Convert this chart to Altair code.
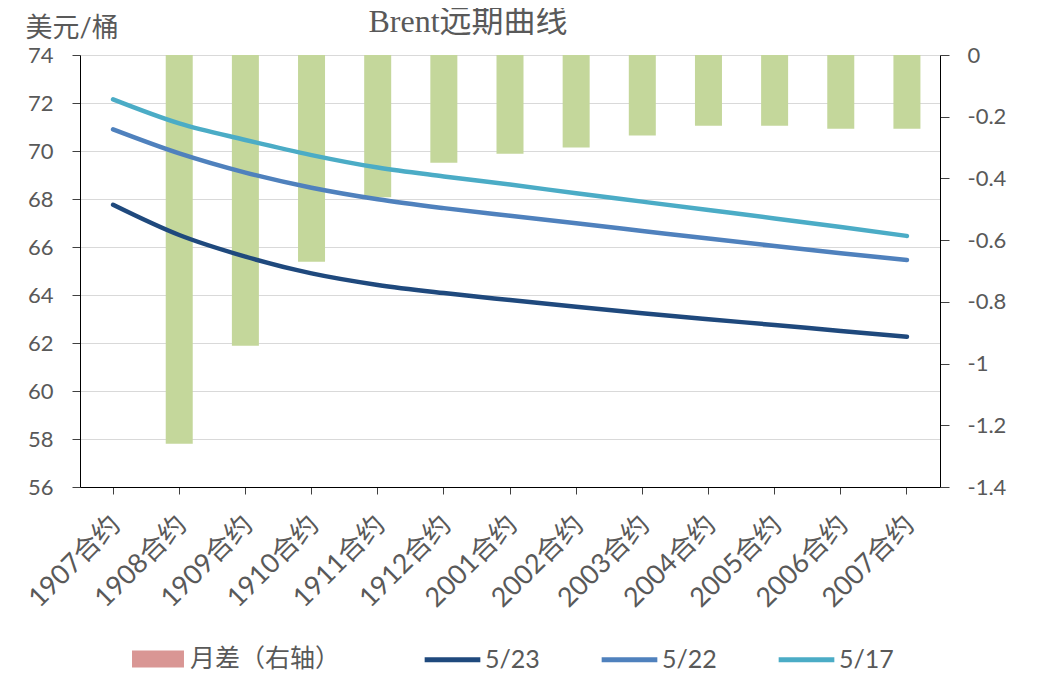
import altair as alt
import pandas as pd

contracts = ['1907合约', '1908合约', '1909合约', '1910合约', '1911合约', '1912合约',
             '2001合约', '2002合约', '2003合约', '2004合约', '2005合约', '2006合约', '2007合约']
spread = [None, -1.26, -0.942, -0.670, -0.461, -0.349, -0.320, -0.300, -0.261, -0.229, -0.229, -0.239, -0.239]
s0523 = [67.76, 66.50, 65.60, 64.90, 64.42, 64.08, 63.79, 63.51, 63.24, 62.99, 62.75, 62.50, 62.26]
s0522 = [70.90, 69.90, 69.10, 68.47, 67.99, 67.62, 67.30, 66.99, 66.67, 66.35, 66.04, 65.74, 65.46]
s0517 = [72.15, 71.15, 70.46, 69.83, 69.31, 68.94, 68.60, 68.24, 67.89, 67.54, 67.19, 66.83, 66.46]
series_names = ['5/23', '5/22', '5/17']
bar_name = '月差（右轴）'
left_ticks = [56, 58, 60, 62, 64, 66, 68, 70, 72, 74]
right_ticks = [0, -0.2, -0.4, -0.6, -0.8, -1.0, -1.2, -1.4]

bar_df = pd.DataFrame({'contract': contracts, 'spread': spread}).dropna()
bar_df['label'] = bar_name
rows = []
for name, vals in zip(series_names, [s0523, s0522, s0517]):
    for c, v in zip(contracts, vals):
        rows.append({'contract': c, 'series': name, 'price': v})
line_df = pd.DataFrame(rows)

GRAY = '#595959'
FONT = 'Lato, Noto Sans CJK SC'
xenc = alt.X('contract:N', sort=contracts, title=None,
             scale=alt.Scale(paddingInner=0, paddingOuter=0),
             axis=alt.Axis(labelAngle=-45, labelFontSize=27, labelColor=GRAY, labelFont=FONT,
                           domainColor='#000000', tickColor='#404040', tickSize=7,
                           labelPadding=17, labelOffset=-6, grid=False, labelOverlap=False))

bars = alt.Chart(bar_df).mark_bar(size=27, color='#C4D79B').encode(
    x=xenc,
    y=alt.Y('spread:Q', scale=alt.Scale(domain=[-1.4, 0], nice=False),
            axis=alt.Axis(orient='right', values=right_ticks, title=None,
                          labelExpr="datum.value == 0 ? '0' : '-' + format(abs(datum.value), '~g')",
                          labelFontSize=22, labelColor=GRAY, labelFont=FONT,
                          domainColor='#000000', tickColor='#404040', tickSize=9,
                          labelPadding=18, grid=False))
)

# invisible layer that only carries the legend entry of the bars
bar_key = alt.Chart(bar_df).mark_point(filled=True, opacity=0).encode(
    x=xenc,
    fill=alt.Fill('label:N', scale=alt.Scale(domain=[bar_name], range=['#D99694']),
                  legend=alt.Legend(orient='none', legendX=52, legendY=578, title=None,
                                    labelFontSize=25, labelColor=GRAY, labelFont=FONT,
                                    labelLimit=400, labelOffset=6,
                                    symbolType='M-1,-0.33H1V0.33H-1Z', symbolSize=2700,
                                    symbolStrokeWidth=0, symbolOpacity=1))
)

lines = alt.Chart(line_df).mark_line(strokeWidth=4.5, interpolate='monotone', strokeCap='round').encode(
    x=xenc,
    y=alt.Y('price:Q', scale=alt.Scale(domain=[56, 74], nice=False),
            axis=alt.Axis(orient='left', values=left_ticks, title='美元/桶',
                          titleAngle=0, titleX=-55, titleY=-19, titleAlign='left',
                          titleBaseline='alphabetic', titleFontSize=27, titleFont=FONT,
                          titleFontWeight='normal', titleColor=GRAY,
                          labelFontSize=22, labelColor=GRAY, labelFont=FONT,
                          domainColor='#000000', tickColor='#404040', tickSize=8,
                          labelPadding=19, grid=True, gridColor='#D9D9D9', gridWidth=1.2)),
    color=alt.Color('series:N',
                    scale=alt.Scale(domain=series_names,
                                    range=['#1F497D', '#4F81BD', '#4BACC6']),
                    legend=alt.Legend(orient='none', legendX=342, legendY=574,
                                      direction='horizontal', columns=3, title=None,
                                      labelFontSize=25, labelColor=GRAY, labelFont=FONT,
                                      columnPadding=51, labelOffset=2, symbolType='stroke',
                                      symbolStrokeWidth=5, symbolSize=3100)),
)

chart = alt.layer(bars, lines, bar_key).resolve_scale(y='independent').properties(
    width=860, height=432,
    autosize=alt.AutoSizeParams(type='none'),
    padding={'left': 72, 'top': 47, 'right': 95, 'bottom': 198},
    title=alt.TitleParams('Brent远期曲线', font='Liberation Serif, Noto Sans CJK SC', fontSize=32,
                          fontWeight='normal', color=GRAY, anchor='middle', dx=-42,
                          frame='group', baseline='alphabetic', offset=-50)
).configure_view(stroke=None)

chart.save('out.html', embed_options={'renderer': 'svg', 'actions': False})
